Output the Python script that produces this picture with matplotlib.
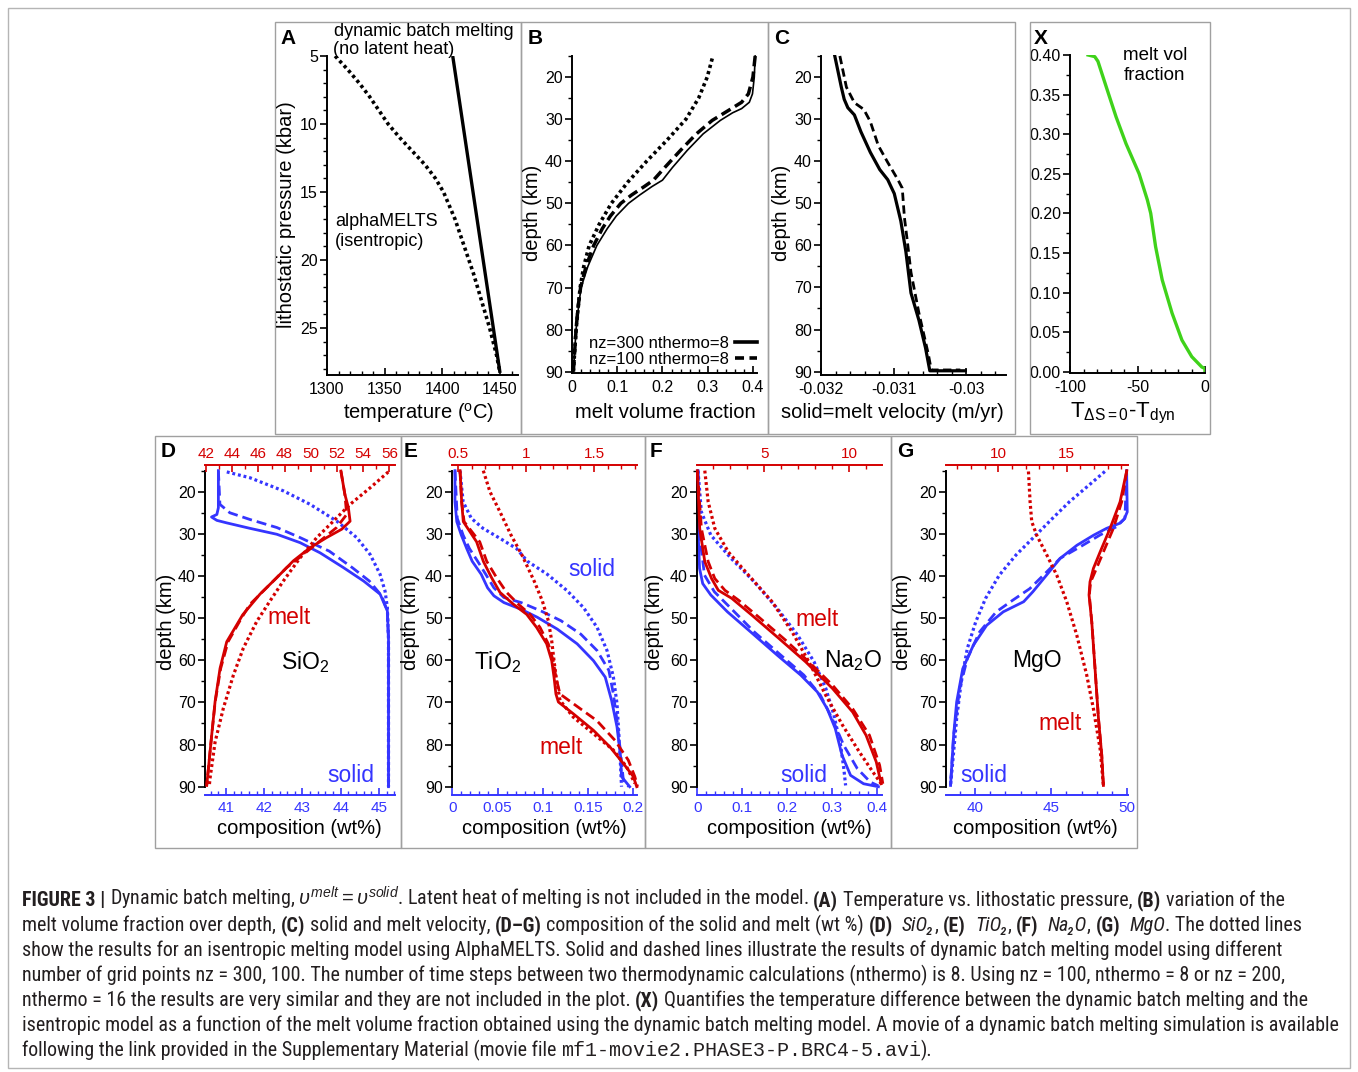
import re
import matplotlib
matplotlib.use("Agg")
import matplotlib.pyplot as plt
from matplotlib import font_manager
from matplotlib.lines import Line2D
from matplotlib.patches import Rectangle
from matplotlib.ticker import MultipleLocator, FuncFormatter

W, H = 1358, 1072
RED, BLUE, GREEN = "#d40000", "#3535ff", "#3fd21a"

plt.rcParams["font.family"] = ["Liberation Sans", "DejaVu Sans"]
plt.rcParams["mathtext.fontset"] = "custom"
plt.rcParams["mathtext.rm"] = "Liberation Sans"
plt.rcParams["mathtext.it"] = "Liberation Sans:italic"
plt.rcParams["mathtext.bf"] = "Liberation Sans:bold"
plt.rcParams["mathtext.sf"] = "Liberation Sans"
plt.rcParams["axes.unicode_minus"] = False

# ---------------- data ----------------
# A: temperature (C) vs lithostatic pressure (kbar)
a_dyn_T = [1409, 1450]
a_dyn_P = [5.0, 28.3]
a_iso_T = [1307, 1318, 1328, 1337, 1345, 1353, 1363, 1374, 1385, 1394, 1401, 1411, 1419, 1427, 1434, 1441, 1447, 1450]
a_iso_P = [5, 6, 7, 8, 9, 10, 11, 12, 13, 14, 15, 17, 19, 21, 23, 25, 27, 28.3]

# B: melt volume fraction vs depth (km)
b_d300 = [15, 20, 24, 26, 27.5, 28.5, 30.3, 33.5, 37.4, 41.5, 44.5, 46, 48, 50, 53, 56, 60, 65, 70, 75, 80, 85, 90]
b_f300 = [0.405, 0.403, 0.399, 0.392, 0.375, 0.355, 0.328, 0.29, 0.255, 0.222, 0.2, 0.177, 0.15, 0.125,
          0.098, 0.078, 0.055, 0.035, 0.02, 0.014, 0.009, 0.006, 0.003]
b_d100 = [15, 20, 24, 26, 28, 30.3, 33.5, 37.4, 41.5, 44.5, 46, 48, 50, 53, 56, 60, 65, 70, 75, 80, 85, 90]
b_f100 = [0.405, 0.4, 0.39, 0.375, 0.345, 0.31, 0.275, 0.24, 0.205, 0.18, 0.16, 0.132, 0.108, 0.085,
          0.067, 0.048, 0.031, 0.019, 0.013, 0.009, 0.006, 0.003]
b_diso = [15.6, 20, 25, 30, 35, 40, 45, 50, 55, 60, 65, 70, 80, 90]
b_fiso = [0.31, 0.299, 0.28, 0.252, 0.21, 0.165, 0.123, 0.087, 0.06, 0.038, 0.026, 0.018, 0.009, 0.003]

# C: solid=melt velocity (m/yr) vs depth (km)
c_d300 = [15, 22.4, 25.3, 27.3, 29, 33, 37.9, 42, 44.4, 47.7, 54.2, 61.5, 71.3, 77.8, 84.3, 89.8, 89.8]
c_v300 = [-0.03181, -0.03172, -0.03168, -0.03163, -0.03154, -0.03145, -0.03132, -0.03119, -0.03108,
          -0.03099, -0.0309, -0.03083, -0.03076, -0.03065, -0.03056, -0.0305, -0.03001]
c_d100 = [15, 22.4, 26.1, 27.7, 30.6, 36.3, 40.3, 44.4, 46.4, 53.4, 59, 66.4, 76.1, 85.9, 89.6, 89.6]
c_v100 = [-0.03174, -0.03165, -0.03154, -0.03141, -0.03132, -0.03121, -0.03108, -0.03094, -0.03088,
          -0.03085, -0.03081, -0.03076, -0.03065, -0.03052, -0.03048, -0.03008]

# X: T(dS=0) - T(dyn) vs melt volume fraction
x_dT = [-86.6, -81.7, -79.3, -73.2, -65.9, -58.5, -48.8, -42.7, -40.2, -36.6, -31.7, -24.4, -17.1, -9.8, -2.4, 0, 0]
x_frac = [0.40, 0.398, 0.392, 0.36, 0.322, 0.288, 0.25, 0.217, 0.2, 0.158, 0.116, 0.074, 0.04, 0.019, 0.006, 0.004, 0.0]

# D: SiO2 (solid: bottom axis, melt: top axis)
d_sol300_d = [15, 23.8, 25.4, 26, 26.8, 27.4, 28.7, 30.1, 32.1, 34.5, 38, 41.2, 44.3, 48.3, 55, 90]
d_sol300_x = [40.8, 40.8, 40.76, 40.62, 40.76, 41.02, 41.63, 42.33, 42.94, 43.46, 44.07, 44.6, 45.03, 45.22, 45.25, 45.25]
d_sol100_d = [15, 23, 25, 26.6, 28.5, 30.9, 34.1, 38, 41.2, 44.7, 48.3, 55, 90]
d_sol100_x = [40.8, 40.84, 41.1, 41.63, 42.33, 42.94, 43.7, 44.3, 44.75, 45.07, 45.22, 45.25, 45.25]
d_soliso_d = [15.3, 16.7, 19.8, 23, 27, 30.9, 34.9, 39.6, 43.6, 47.5, 55, 90]
d_soliso_x = [41.02, 41.63, 42.5, 43.2, 43.9, 44.42, 44.77, 45.03, 45.16, 45.22, 45.25, 45.25]
d_mel300_d = [15.1, 20.6, 23.8, 27, 28.9, 30.9, 33.3, 36.4, 40.4, 44.3, 49.2, 55.6, 61.9, 69.8, 77.8, 85.7, 89.7]
d_mel300_x = [52.3, 52.6, 52.87, 53.0, 52.36, 51.2, 49.94, 48.67, 47.4, 46.12, 44.8, 43.58, 43.07, 42.69, 42.43, 42.18, 42.05]
d_mel100_d = [15.1, 20.6, 25.4, 28.5, 31.7, 34.9, 38, 42, 46.7, 49.9, 55.6, 61.9, 69.8, 77.8, 85.7, 89.7]
d_mel100_x = [52.3, 52.6, 52.74, 51.97, 50.7, 49.43, 48.16, 46.88, 45.36, 44.72, 43.68, 43.12, 42.7, 42.43, 42.18, 42.05]
d_meliso_d = [15.3, 19.1, 23, 27, 30.9, 35.7, 41.2, 45.9, 50.8, 57.1, 63.5, 71.4, 79.4, 88.1, 89.7]
d_meliso_x = [55.92, 54.52, 53.0, 51.72, 50.45, 49.18, 47.9, 46.89, 45.87, 44.85, 44.09, 43.32, 42.69, 42.3, 42.25]

# E: TiO2
e_sol300_d = [15, 22.4, 27.1, 30.3, 33.5, 36.5, 39.6, 42.8, 44.7, 46.3, 47.9, 49.8, 52.6, 56.1, 60.1, 64, 69.5,
              75.8, 82.9, 87.6, 89.2, 90]
e_sol300_x = [0.003, 0.003, 0.005, 0.010, 0.016, 0.022, 0.032, 0.039, 0.046, 0.057, 0.076, 0.094, 0.116, 0.138,
              0.156, 0.169, 0.176, 0.182, 0.186, 0.187, 0.193, 0.196]
e_sol100_d = [15, 26.3, 30.3, 33.5, 36.5, 39.6, 42.8, 45.1, 46.3, 48.3, 50.6, 53.8, 57.7, 62.4, 68, 74.3, 82.1, 88.4, 90]
e_sol100_x = [0.003, 0.0055, 0.012, 0.019, 0.028, 0.037, 0.046, 0.057, 0.076, 0.098, 0.12, 0.142, 0.16, 0.173,
              0.178, 0.182, 0.186, 0.189, 0.195]
e_soliso_d = [15, 22.4, 26.3, 28.7, 31.1, 33.5, 36.5, 39.6, 43.5, 47.5, 52.2, 57.7, 64, 70.3, 77.4, 85.3, 90]
e_soliso_x = [0.0085, 0.012, 0.021, 0.034, 0.053, 0.071, 0.083, 0.105, 0.127, 0.145, 0.16, 0.171, 0.178, 0.182,
              0.184, 0.186, 0.187]
e_mel300_d = [15, 22.4, 27.1, 31.9, 36.5, 40.4, 43.9, 46.7, 49.1, 52.2, 56.1, 60.1, 64, 68, 69.9, 72.7, 76.6,
              80.6, 84.5, 87.6, 90]
e_mel300_x = [0.515, 0.527, 0.539, 0.637, 0.686, 0.747, 0.809, 0.907, 1.005, 1.078, 1.152, 1.189, 1.206, 1.22,
              1.238, 1.348, 1.495, 1.618, 1.716, 1.789, 1.814]
e_mel100_d = [15, 22.4, 27.1, 31.9, 36.5, 40.4, 43.9, 46.7, 49.1, 52.2, 56.1, 60.1, 64, 68, 70.3, 74.3, 79,
              83.7, 87.6, 90]
e_mel100_x = [0.515, 0.527, 0.545, 0.66, 0.711, 0.784, 0.858, 0.944, 1.03, 1.103, 1.164, 1.2, 1.22, 1.25,
              1.348, 1.52, 1.654, 1.752, 1.8, 1.82]
e_meliso_d = [15, 20, 24.8, 30.3, 35, 41.2, 45.9, 50.6, 55.4, 60.1, 64.8, 69.5, 73.5, 77.4, 81.3, 85.3, 89.2]
e_meliso_x = [0.686, 0.735, 0.809, 0.89, 0.97, 1.06, 1.12, 1.164, 1.189, 1.206, 1.225, 1.25, 1.348, 1.495,
              1.642, 1.74, 1.8]

# F: Na2O
f_sol300_d = [15, 30.3, 38.2, 41.8, 44.5, 48.5, 53.3, 58.8, 63.5, 67.5, 71.5, 76.2, 82.5, 87.3, 89.3, 90]
f_sol300_x = [0.0015, 0.002, 0.005, 0.012, 0.03, 0.067, 0.119, 0.178, 0.23, 0.267, 0.289, 0.307, 0.322, 0.341, 0.37, 0.403]
f_sol100_d = [15, 30.3, 39.8, 43.75, 47.7, 53.3, 58.8, 63.5, 68.3, 73.8, 80.2, 85.7, 88.9, 89.8]
f_sol100_x = [0.0015, 0.005, 0.016, 0.038, 0.075, 0.127, 0.186, 0.237, 0.274, 0.3, 0.326, 0.356, 0.385, 0.403]
f_soliso_d = [15, 24.8, 30.3, 35.8, 41.4, 47.7, 54, 60.4, 66.7, 73, 80.2, 85.7, 89.7]
f_soliso_x = [0.0015, 0.009, 0.03, 0.075, 0.127, 0.178, 0.223, 0.26, 0.286, 0.304, 0.319, 0.326, 0.33]
f_mel300_d = [15, 28.7, 36.6, 40.6, 43.4, 45.3, 49.3, 54.8, 60.4, 66.7, 72.3, 77.8, 84.1, 89.3]
f_mel300_x = [1.05, 1.19, 1.49, 1.89, 2.29, 3.08, 4.27, 5.86, 7.45, 9.03, 10.22, 11.01, 11.61, 11.9]
f_mel100_d = [15, 28.7, 36.6, 40.6, 43.4, 45.7, 49.7, 55.2, 60.4, 65.9, 71.5, 77.8, 84.9, 89.3]
f_mel100_x = [1.05, 1.29, 1.69, 2.08, 2.68, 3.47, 4.66, 6.25, 7.64, 9.03, 10.22, 11.21, 11.81, 12.0]
f_meliso_d = [15, 22.4, 28.7, 34.3, 39.8, 46.1, 53.3, 60.4, 68.3, 75.4, 81.8, 86.5, 89.3]
f_meliso_x = [1.49, 1.69, 2.08, 2.88, 4.07, 5.46, 6.65, 7.64, 8.63, 9.62, 10.62, 11.41, 11.9]

# G: MgO
g_sol300_d = [15, 24.8, 26.5, 27.5, 28.7, 30.3, 32.7, 35.8, 39.8, 43.75, 46.1, 48.5, 51.7, 56.4, 62, 69.9, 77.8, 89.7]
g_sol300_x = [49.96, 50.0, 49.8, 49.5, 48.64, 47.8, 46.7, 45.6, 44.7, 43.8, 43.2, 41.86, 40.77, 39.9, 39.2, 38.8, 38.6, 38.4]
g_sol100_d = [15, 26.3, 28.3, 30.3, 33.1, 35.8, 39.8, 43, 45.7, 48.5, 53.3, 59.6, 66.7, 77.8, 89.7]
g_sol100_x = [49.96, 49.85, 49.3, 48.2, 46.9, 45.6, 44.5, 43.6, 42.5, 41.4, 40.3, 39.5, 39.0, 38.6, 38.4]
g_soliso_d = [15.2, 18.4, 22.4, 26.3, 30.3, 35, 39.8, 45.3, 50.9, 57.2, 65.1, 73.8, 81.8, 89.7]
g_soliso_x = [48.53, 47.5, 46.2, 45.1, 44.0, 42.7, 41.6, 40.7, 40.05, 39.5, 39.1, 38.8, 38.6, 38.4]
g_mel300_d = [15, 22.4, 28.7, 34.3, 38.2, 41.4, 44.5, 50.9, 62, 73.8, 82.5, 89.7]
g_mel300_x = [19.39, 18.9, 18.17, 17.44, 16.95, 16.7, 16.63, 16.83, 17.07, 17.32, 17.56, 17.68]
g_mel100_d = [15, 22.4, 28.7, 34.3, 39, 41.4, 44.5, 50.9, 62, 73.8, 82.5, 89.7]
g_mel100_x = [19.39, 19.02, 18.41, 17.68, 17.07, 16.75, 16.65, 16.83, 17.07, 17.32, 17.56, 17.68]
g_meliso_d = [15.2, 22.4, 27.1, 30.3, 35, 39.8, 46.1, 54, 63.5, 71.5, 81, 89.7]
g_meliso_x = [12.2, 12.32, 12.44, 12.8, 13.54, 14.27, 15.0, 15.73, 16.46, 16.95, 17.44, 17.68]

caption_lines = [
    r"**FIGURE 3 |** Dynamic batch melting, $\upsilon^{melt} = \upsilon^{solid}$. Latent heat of melting is not included in the model. **(A)** Temperature vs. lithostatic pressure, **(B)** variation of the",
    r"melt volume fraction over depth, **(C)** solid and melt velocity, **(D–G)** composition of the solid and melt (wt %) **(D)** __SiO₂__, **(E)** __TiO₂__, **(F)** __Na₂O__, **(G)** __MgO__. The dotted lines",
    "show the results for an isentropic melting model using AlphaMELTS. Solid and dashed lines illustrate the results of dynamic batch melting model using different",
    "number of grid points nz = 300, 100. The number of time steps between two thermodynamic calculations (nthermo) is 8. Using nz = 100, nthermo = 8 or nz = 200,",
    "nthermo = 16 the results are very similar and they are not included in the plot. **(X)** Quantifies the temperature difference between the dynamic batch melting and the",
    "isentropic model as a function of the melt volume fraction obtained using the dynamic batch melting model. A movie of a dynamic batch melting simulation is available",
    "following the link provided in the Supplementary Material (movie file ``mf1-movie2.PHASE3-P.BRC4-5.avi``).",
]

# ---------------- figure ----------------
fig = plt.figure(figsize=(W / 100, H / 100), dpi=100)


def px_axes(x0, y0, x1, y1):
    return fig.add_axes([x0 / W, 1 - y1 / H, (x1 - x0) / W, (y1 - y0) / H])


def ftext(x, y, s, **kw):
    return fig.text(x / W, 1 - y / H, s, **kw)


SOLID = dict(ls="-", lw=2.0)
DASH = dict(ls=(0, (3.6, 1.8)), lw=2.0)
DOT = dict(ls=(0, (0.9, 0.9)), lw=2.3)
fmt_g = FuncFormatter(lambda v, p: "%g" % round(v, 6))


def style_black(ax, xmaj, xmin, ymaj, ymin, yfmt=fmt_g):
    for s in ("top", "right"):
        ax.spines[s].set_visible(False)
    for s in ("left", "bottom"):
        ax.spines[s].set_linewidth(1.4)
    ax.xaxis.set_major_locator(MultipleLocator(xmaj))
    ax.xaxis.set_minor_locator(MultipleLocator(xmin))
    ax.yaxis.set_major_locator(MultipleLocator(ymaj))
    ax.yaxis.set_minor_locator(MultipleLocator(ymin))
    ax.xaxis.set_major_formatter(fmt_g)
    ax.yaxis.set_major_formatter(yfmt)
    ax.tick_params(axis="y", which="major", direction="out", length=5, width=1.2, labelsize=11.5, pad=1.5)
    ax.tick_params(axis="y", which="minor", direction="out", length=3, width=1.0)
    ax.tick_params(axis="x", which="major", direction="in", length=5, width=1.2, labelsize=11.5, pad=5)
    ax.tick_params(axis="x", which="minor", direction="in", length=3, width=1.0)
    ax.patch.set_alpha(0)


# panel frames and outer frame
frames = [(275, 22, 521, 434), (521, 22, 768, 434), (768, 22, 1015, 434), (1030, 22, 1210, 434),
          (155, 436, 401, 848), (401, 436, 645, 848), (645, 436, 891, 848), (891, 436, 1137, 848)]
for x0, y0, x1, y1 in frames:
    fig.patches.append(Rectangle((x0 / W, 1 - y1 / H), (x1 - x0) / W, (y1 - y0) / H,
                                 transform=fig.transFigure, fill=False, ec="#a0a0a0", lw=1.0))
fig.patches.append(Rectangle((8 / W, 1 - 1068 / H), 1342 / W, 1060 / H, transform=fig.transFigure,
                             fill=False, ec="#b5b5b5", lw=1.0))

# ---- A
axA = px_axes(327, 56, 518, 375)
axA.plot(a_dyn_T, a_dyn_P, color="black", lw=2.4, solid_capstyle="butt")
axA.plot(a_iso_T, a_iso_P, color="black", ls=(0, (0.9, 0.9)), lw=2.6)
axA.set_xlim(1300, 1465.6)
axA.set_ylim(28.46, 5)
style_black(axA, 50, 10, 5, 1)
ftext(424, 31, "dynamic batch melting", ha="center", va="center", fontsize=13)
ftext(394, 49, "(no latent heat)", ha="center", va="center", fontsize=13)
ftext(335, 222, "alphaMELTS", ha="left", va="center", fontsize=13)
ftext(335, 241, "(isentropic)", ha="left", va="center", fontsize=13)
ftext(287, 215, "lithostatic pressure (kbar)", rotation=90, ha="center", va="center", fontsize=14.5)
ftext(419, 413, r"temperature ($^{\rm o}$C)", ha="center", va="center", fontsize=14.5)

# ---- B
axB = px_axes(572, 55, 757, 373)
axB.plot(b_f300, b_d300, color="black", lw=1.2)
axB.plot(b_f100, b_d100, color="black", ls=(0, (3, 1.5)), lw=2.5)
axB.plot(b_fiso, b_diso, color="black", ls=(0, (0.9, 0.9)), lw=2.6)
axB.set_xlim(0, 0.409)
axB.set_ylim(90.3, 14.77)
style_black(axB, 0.1, 0.02, 10, 5)
axB.spines["left"].set_bounds(15, 90.3)
hs = [Line2D([], [], color="black", lw=2.6), Line2D([], [], color="black", ls=(0, (2.5, 1.5)), lw=2.6)]
axB.legend(hs, ["nz=300 nthermo=8", "nz=100 nthermo=8"], loc="lower right", bbox_to_anchor=(1.0, 0.02),
           markerfirst=False, frameon=False, handlelength=1.3, handletextpad=0.4, labelspacing=0.05,
           fontsize=12, borderaxespad=0, borderpad=0)
ftext(532, 213, "depth (km)", rotation=90, ha="center", va="center", fontsize=14.5)
ftext(665, 413, "melt volume fraction", ha="center", va="center", fontsize=14.5)

# ---- C
axC = px_axes(821, 55, 1006, 375)
axC.plot(c_v300, c_d300, color="black", lw=2.3)
axC.plot(c_v100, c_d100, color="black", ls=(0, (3, 1.6)), lw=2.0)
axC.set_xlim(-0.032, -0.02945)
axC.set_ylim(90.8, 14.77)
style_black(axC, 0.001, 0.0002, 10, 5)
axC.spines["left"].set_bounds(15, 90.8)
ftext(782, 213, "depth (km)", rotation=90, ha="center", va="center", fontsize=14.5)
ftext(892, 413, "solid=melt velocity (m/yr)", ha="center", va="center", fontsize=14.5)

# ---- X
axX = px_axes(1070, 55, 1205, 373)
axX.plot(x_dT, x_frac, color=GREEN, lw=2.4)
axX.set_xlim(-100, 0)
axX.set_ylim(-0.0016, 0.4)
style_black(axX, 50, 10, 0.05, 0.025, yfmt=FuncFormatter(lambda v, p: "%.2f" % v))
ftext(1155, 55, "melt vol", ha="center", va="center", fontsize=13.5)
ftext(1155, 75, "fraction", ha="center", va="center", fontsize=13.5)
ftext(1123, 413, r"T$_{\mathrm{\Delta S=0}}$-T$_{\mathrm{dyn}}$", ha="center", va="center", fontsize=16)


# ---- D-G composition panels
def comp_panel(rect, xb_lim, xt_lim, xb_maj, xb_min, xt_maj, xt_min, solid, melt):
    ax = px_axes(*rect)
    ax.set_ylim(91.97, 13.66)
    ax.set_xlim(*xb_lim)
    style_black(ax, xb_maj, xb_min, 10, 5)
    ax.spines["left"].set_bounds(15, 90)
    ax.spines["bottom"].set_color(BLUE)
    ax.tick_params(axis="x", which="both", colors=BLUE, labelsize=11)
    ax.tick_params(axis="x", which="major", pad=4)
    axt = ax.twiny()
    axt.set_xlim(*xt_lim)
    for s in ("left", "right", "bottom"):
        axt.spines[s].set_visible(False)
    axt.spines["top"].set_color(RED)
    axt.spines["top"].set_linewidth(1.4)
    axt.xaxis.set_major_locator(MultipleLocator(xt_maj))
    axt.xaxis.set_minor_locator(MultipleLocator(xt_min))
    axt.xaxis.set_major_formatter(fmt_g)
    axt.tick_params(axis="x", which="major", direction="in", length=5, width=1.2, colors=RED,
                    labelsize=11, pad=3)
    axt.tick_params(axis="x", which="minor", direction="in", length=3, width=1.0, colors=RED)
    for (xs, ds), st in zip(solid, (SOLID, DASH, DOT)):
        ax.plot(xs, ds, color=BLUE, clip_on=False, **st)
    for (xs, ds), st in zip(melt, (SOLID, DASH, DOT)):
        axt.plot(xs, ds, color=RED, clip_on=False, **st)
    return ax, axt


comp_panel((205, 465, 395, 795), (40.45, 45.42), (41.92, 56.43), 1, 0.2, 2, 1,
           [(d_sol300_x, d_sol300_d), (d_sol100_x, d_sol100_d), (d_soliso_x, d_soliso_d)],
           [(d_mel300_x, d_mel300_d), (d_mel100_x, d_mel100_d), (d_meliso_x, d_meliso_d)])
comp_panel((452, 465, 637, 795), (-0.0003, 0.2041), (0.456, 1.816), 0.05, 0.01, 0.5, 0.1,
           [(e_sol300_x, e_sol300_d), (e_sol100_x, e_sol100_d), (e_soliso_x, e_soliso_d)],
           [(e_mel300_x, e_mel300_d), (e_mel100_x, e_mel100_d), (e_meliso_x, e_meliso_d)])
comp_panel((697, 465, 882, 795), (-0.0007, 0.411), (1.03, 11.95), 0.1, 0.02, 5, 1,
           [(f_sol300_x, f_sol300_d), (f_sol100_x, f_sol100_d), (f_soliso_x, f_soliso_d)],
           [(f_mel300_x, f_mel300_d), (f_mel100_x, f_mel100_d), (f_meliso_x, f_meliso_d)])
comp_panel((946, 465, 1128, 795), (38.1, 50.05), (6.17, 19.48), 5, 1, 5, 1,
           [(g_sol300_x, g_sol300_d), (g_sol100_x, g_sol100_d), (g_soliso_x, g_soliso_d)],
           [(g_mel300_x, g_mel300_d), (g_mel100_x, g_mel100_d), (g_meliso_x, g_meliso_d)])

for x in (167, 410, 655, 903):
    ftext(x, 622, "depth (km)", rotation=90, ha="center", va="center", fontsize=14.5)
for x in (299, 544, 789, 1035):
    ftext(x, 828, "composition (wt%)", ha="center", va="center", fontsize=14.5)

LBL = dict(ha="center", va="center", fontsize=16.5)
ftext(289, 618, "melt", color=RED, **LBL)
ftext(305, 662, r"SiO$_2$", color="black", **LBL)
ftext(351, 775, "solid", color=BLUE, **LBL)
ftext(592, 570, "solid", color=BLUE, **LBL)
ftext(498, 662, r"TiO$_2$", color="black", **LBL)
ftext(561, 747, "melt", color=RED, **LBL)
ftext(817, 620, "melt", color=RED, **LBL)
ftext(853, 661, r"Na$_2$O", color="black", **LBL)
ftext(804, 775, "solid", color=BLUE, **LBL)
ftext(1037, 660, "MgO", color="black", **LBL)
ftext(1060, 724, "melt", color=RED, **LBL)
ftext(984, 775, "solid", color=BLUE, **LBL)

for x, y, s in [(288, 38, "A"), (535, 38, "B"), (782, 38, "C"), (1041, 38, "X"),
                (168, 452, "D"), (411, 452, "E"), (656, 452, "F"), (905, 452, "G")]:
    ftext(x, y, s, ha="center", va="center", fontsize=15, fontweight="bold")

# ---------------- caption ----------------
# prefer a condensed sans face if one is installed (caption is set in a condensed font)
CAP_FONT, CAP_STRETCH = "Liberation Sans", "normal"
pref = ["Liberation Sans Narrow", "Roboto Condensed", "Open Sans", "Noto Sans", "DejaVu Sans", "Roboto", "Lato"]
cond = {}
for f in font_manager.fontManager.ttflist:
    st = f.stretch
    if isinstance(st, str) and "condensed" in st and f.style == "normal" and f.weight in (400, "normal", "regular"):
        cond.setdefault(f.name, st)
for name in pref:
    if name in cond:
        CAP_FONT, CAP_STRETCH = name, cond[name]
        break

cap_base = [906, 931, 956, 981, 1006, 1031, 1056]
renderer = fig.canvas.get_renderer()


def seg_props(kind, size):
    kw = dict(fontsize=size, color="#231f20", va="baseline", ha="left")
    if kind == "b":
        kw["fontweight"] = "bold"
    if kind == "i":
        kw["fontstyle"] = "italic"
    if kind == "m":
        kw["family"] = ["Liberation Mono", "DejaVu Sans Mono"]
    else:
        kw["family"] = [CAP_FONT, "DejaVu Sans"]
        kw["fontstretch"] = CAP_STRETCH
    return kw


def draw_caption(size):
    texts, widths = [], []
    for row, line in enumerate(caption_lines):
        x = 22.0
        for part in re.split(r"(\*\*.*?\*\*|__.*?__|``.*?``)", line):
            if not part:
                continue
            kind = "n"
            if part.startswith("**"):
                kind, part = "b", part[2:-2]
            elif part.startswith("__"):
                kind, part = "i", part[2:-2]
            elif part.startswith("``"):
                kind, part = "m", part[2:-2]
            kw = seg_props(kind, size)
            t0 = fig.text(0, 0, "a a", **kw)
            t1 = fig.text(0, 0, "aa", **kw)
            sp = t0.get_window_extent(renderer).width - t1.get_window_extent(renderer).width
            t0.remove()
            t1.remove()
            core = part.strip(" ")
            x += sp * (len(part) - len(part.lstrip(" ")))
            if core:
                t = fig.text(x / W, 1 - cap_base[row] / H, core, **kw)
                x += t.get_window_extent(renderer).width
                texts.append(t)
            x += sp * (len(part) - len(part.rstrip(" ")))
        widths.append(x - 22)
    return texts, widths


texts, widths = draw_caption(12)
scale = 1320.0 / widths[5]
for t in texts:
    t.remove()
draw_caption(12 * scale)

fig.savefig("out.png", dpi=100)
